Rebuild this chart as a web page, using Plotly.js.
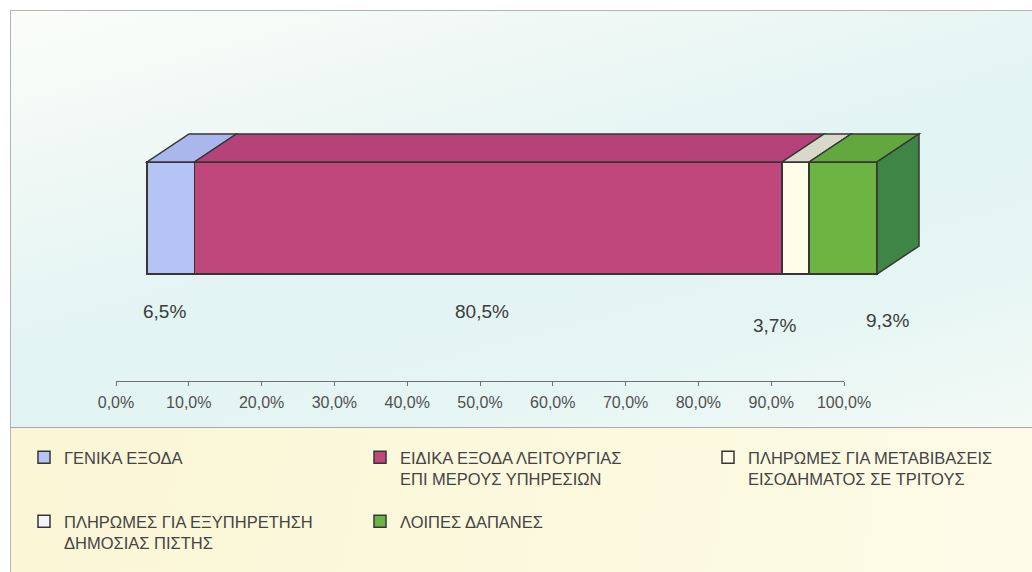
<!DOCTYPE html>
<html><head><meta charset="utf-8">
<script src="https://cdn.plot.ly/plotly-3.0.1.min.js"></script>
<style>
html,body{margin:0;padding:0;background:#fff;}
#wrap{position:relative;width:1032px;height:572px;overflow:hidden;background:#fff;}
#top{position:absolute;left:10px;top:10px;width:1022px;height:417px;border-top:1px solid #b4b4b4;border-left:1px solid #b4b4b4;
 background:linear-gradient(165deg,#fbfdf9 0%,#eff8f5 25%,#e2f4f3 50%,#e4f5f3 72%,#f3faf6 100%);}
#bot{position:absolute;left:10px;top:427px;width:1022px;height:145px;border-top:1px solid #a9a9a9;border-left:1px solid #b4b4b4;
 background:linear-gradient(100deg,#fbf6d6 0%,#fcf9df 60%,#fdfbe8 100%);}
#chart{position:absolute;left:0;top:0;width:1032px;height:572px;}
</style></head>
<body><div id="wrap"><div id="top"></div><div id="bot"></div><div id="chart"></div></div>
<script>
// ---- data ----
const categories = [
  'ΓΕΝΙΚΑ ΕΞΟΔΑ',
  'ΕΙΔΙΚΑ ΕΞΟΔΑ ΛΕΙΤΟΥΡΓΙΑΣ<br>ΕΠΙ ΜΕΡΟΥΣ ΥΠΗΡΕΣΙΩΝ',
  'ΠΛΗΡΩΜΕΣ ΓΙΑ ΜΕΤΑΒΙΒΑΣΕΙΣ<br>ΕΙΣΟΔΗΜΑΤΟΣ ΣΕ ΤΡΙΤΟΥΣ',
  'ΠΛΗΡΩΜΕΣ ΓΙΑ ΕΞΥΠΗΡΕΤΗΣΗ<br>ΔΗΜΟΣΙΑΣ ΠΙΣΤΗΣ',
  'ΛΟΙΠΕΣ ΔΑΠΑΝΕΣ'
];
const shares = [6.5, 80.5, 3.7, 0, 9.3];
const tickValues = [0, 10, 20, 30, 40, 50, 60, 70, 80, 90, 100];
const tickLabels = ['0,0%', '10,0%', '20,0%', '30,0%', '40,0%', '50,0%', '60,0%', '70,0%', '80,0%', '90,0%', '100,0%'];

// ---- style ----
const W = 1032, H = 572;
const frontColors = ['#b5c3f5', '#bf477c', '#fdfde9', '#f2f6fb', '#6db443'];
const topColors   = ['#a9b7ec', '#b5437a', '#d8d9ca', '#e8ecf0', '#62a83e'];
const sideColor = '#3f8646';
const edge = '#363636';
const FONT = 'Liberation Sans, Arial, sans-serif';
// label nudges (px) relative to segment centre
const labelShiftX = [-6, -6, -21, 0, 44];
const labelY = [311, 311, 325, 0, 320];
// legend placement (px): text start x, first line y
const legendPos = [[64, 450], [400, 450], [748, 450], [64, 514], [400, 514]];

// geometry (px)
const front0 = 147, front100 = 877, barTop = 162, barBot = 274;
const axis0 = 116, axis100 = 844, axisY = 381;
const depthX = 42, depthY = 28;
const pxPerX = (front100 - front0) / 100;
const barW = 0.6;
const pxPerY = (barBot - barTop) / barW;
const yTopR = ((barTop + barBot) / 2) / pxPerY;
const yRange = [yTopR - H / pxPerY, yTopR];
const x2Range = [-front0 / pxPerX, (W - front0) / pxPerX];
const dX = depthX / pxPerX, dY = depthY / pxPerY;

const data = [];
// dummy trace for the visible percentage axis
data.push({x: [], y: [], type: 'scatter', xaxis: 'x', yaxis: 'y', showlegend: false, hoverinfo: 'skip'});
shares.forEach((v, i) => {
  data.push({
    type: 'bar', orientation: 'h', x: [v], y: [0], width: barW,
    xaxis: 'x2', yaxis: 'y', name: categories[i],
    marker: {color: frontColors[i], line: {color: edge, width: 1.5}},
    legend: i === 0 ? 'legend' : 'legend' + (i + 1),
    hoverinfo: 'name+x'
  });
});

const shapes = [];
const annotations = [];
let cum = 0;
shares.forEach((v, i) => {
  const c0 = cum, c1 = cum + v;
  cum = c1;
  if (v <= 0) return;
  const yt = barW / 2;
  shapes.push({
    type: 'path', xref: 'x2', yref: 'y',
    path: `M${c0},${yt} L${c1},${yt} L${c1 + dX},${yt + dY} L${c0 + dX},${yt + dY} Z`,
    fillcolor: topColors[i], line: {color: edge, width: 1.5}
  });
  annotations.push({
    xref: 'x2', yref: 'paper', x: (c0 + c1) / 2, y: 1 - labelY[i] / H,
    xshift: labelShiftX[i], xanchor: 'center', yanchor: 'middle', showarrow: false,
    text: v.toFixed(1).replace('.', ',') + '%',
    font: {family: FONT, size: 19, color: '#3c3c3c'}
  });
});
// right side face
const total = cum;
shapes.push({
  type: 'path', xref: 'x2', yref: 'y',
  path: `M${total},${barW / 2} L${total},${-barW / 2} L${total + dX},${-barW / 2 + dY} L${total + dX},${barW / 2 + dY} Z`,
  fillcolor: sideColor, line: {color: edge, width: 1.5}
});

const layout = {
  width: W, height: H,
  margin: {l: 0, r: 0, t: 0, b: 0},
  paper_bgcolor: 'rgba(0,0,0,0)', plot_bgcolor: 'rgba(0,0,0,0)',
  barmode: 'stack', bargap: 0,
  font: {family: FONT, color: '#444'},
  xaxis: {
    domain: [axis0 / W, axis100 / W], range: [0, 100], anchor: 'free', position: 1 - axisY / H,
    tickvals: tickValues, ticktext: tickLabels, showgrid: false, zeroline: false,
    showline: true, linecolor: '#707070', linewidth: 1,
    ticks: 'outside', ticklen: 4, tickcolor: '#707070', ticklabelstandoff: 3,
    tickfont: {family: FONT, size: 16, color: '#505050'}, fixedrange: true
  },
  xaxis2: {domain: [0, 1], range: x2Range, anchor: 'y', visible: false, fixedrange: true},
  yaxis: {domain: [0, 1], range: yRange, visible: false, fixedrange: true},
  shapes: shapes,
  annotations: annotations,
  showlegend: true
};
legendPos.forEach((p, i) => {
  const key = i === 0 ? 'legend' : 'legend' + (i + 1);
  layout[key] = {
    x: (p[0] - 40) / W, xanchor: 'left', y: 1 - (p[1] - 10) / H, yanchor: 'top',
    bgcolor: 'rgba(0,0,0,0)', borderwidth: 0, valign: 'top',
    font: {family: FONT, size: 16.5, color: '#444'}
  };
});

Plotly.newPlot('chart', data, layout, {displayModeBar: false, staticPlot: true});
</script></body></html>
